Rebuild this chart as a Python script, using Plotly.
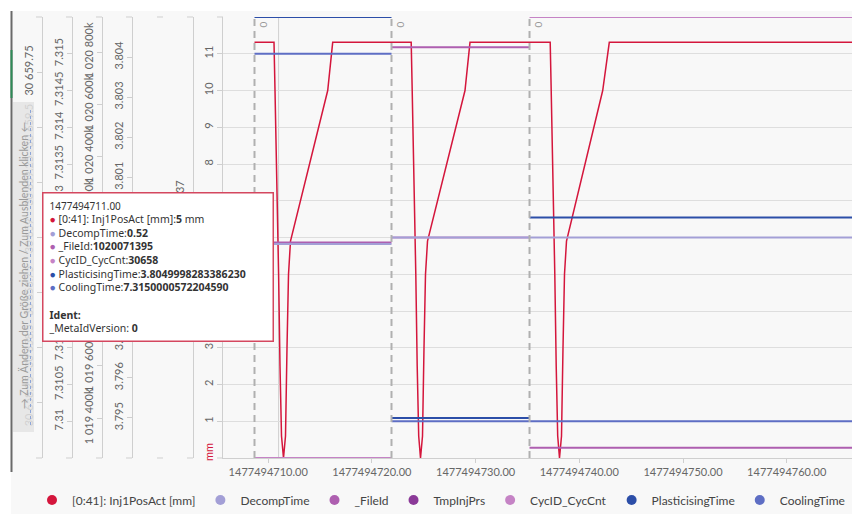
import plotly.graph_objects as go

# ---------------- data ----------------
cycle_start = [1477494708.68, 1477494721.89, 1477494735.20]
series_end = 1477494770.0
hover_time = 1477494711.00
x_range = [1477494705.641, 1477494767.84]

red_t = [1477494708.679, 1477494710.559, 1477494710.656, 1477494710.849, 1477494711.003,
         1477494711.138, 1477494711.283, 1477494711.475, 1477494711.668, 1477494711.813,
         1477494711.958, 1477494712.150, 1477494715.738, 1477494716.220,
         1477494723.790, 1477494723.886, 1477494724.079, 1477494724.233, 1477494724.368,
         1477494724.513, 1477494724.687, 1477494724.880, 1477494725.024, 1477494725.169,
         1477494725.362, 1477494728.978, 1477494729.460,
         1477494737.194, 1477494737.290, 1477494737.483, 1477494737.637, 1477494737.773,
         1477494737.917, 1477494738.091, 1477494738.284, 1477494738.428, 1477494738.573,
         1477494738.766, 1477494742.257, 1477494742.893, 1477494770.0]
red_v = [11.31, 11.31, 10.0, 7.5, 5.0, 2.5, 0.6, 0.0, 0.6, 3.0, 5.0, 5.9, 10.0, 11.31,
         11.31, 10.0, 7.5, 5.0, 2.5, 0.6, 0.0, 0.6, 3.0, 5.0, 5.9, 10.0, 11.31,
         11.31, 10.0, 7.5, 5.0, 2.5, 0.6, 0.0, 0.6, 3.0, 5.0, 5.9, 10.0, 11.31, 11.31]

decomp_v = [0.5197, 0.52, 0.52]
fileid_v = [1020071395, 1020818000, 1019286000]
cycid_v = [30658, 30659, 30660]
plast_v = [3.8049998283386230, 3.795, 3.800]
cool_v = [7.3150000572204590, 7.310, 7.310]

mm_ticks = [1, 2, 3, 4, 5, 6, 7, 8, 9, 10, 11]
cycid_ticks = [30658.25, 30658.5, 30658.75, 30659, 30659.25, 30659.5, 30659.75]
cool_ticks = [7.31, 7.3105, 7.311, 7.3115, 7.312, 7.3125, 7.313, 7.3135, 7.314, 7.3145, 7.315]
fileid_ticks = [1019400000, 1019600000, 1019800000, 1020000000,
                1020200000, 1020400000, 1020600000, 1020800000]
plast_ticks = [3.795, 3.796, 3.797, 3.798, 3.799, 3.800, 3.801, 3.802, 3.803, 3.804]

names = ["[0:41]: Inj1PosAct [mm]", "DecompTime", "_FileId", "TmpInjPrs",
         "CycID_CycCnt", "PlasticisingTime", "CoolingTime"]
colors = ["#d4163c", "#a39fd6", "#ae5fb0", "#8b3a98", "#c583c5", "#2c4ea8", "#5e6ec4"]

# figure sits in the page with an 8px body margin; px_* take page pixels
W, H = 860, 514
OFF = 8
ML, MR, MT, MB = 0, 0, 9, 64
PH = H - MT - MB

# page-pixel x positions of the stacked y axes (CycID, Cooling, FileId, Plast, TmpInjPrs, Decomp, mm)
axis_px = [42, 72, 102, 132, 163, 193, 223]


def px_x(p):
    return (p - OFF) / W


def px_y(p):
    return (H - MB - (p - OFF)) / PH


def steps(vals):
    xs, ys = [], []
    ends = cycle_start[1:] + [series_end]
    for s, e, v in zip(cycle_start, ends, vals):
        xs += [s, e, None]
        ys += [v, v, None]
    return xs, ys


fig = go.Figure()

step_defs = [
    ("DecompTime", decomp_v, "y7", colors[1]),
    ("_FileId", fileid_v, "y4", colors[2]),
    ("CycID_CycCnt", cycid_v, "y2", colors[4]),
    ("CoolingTime", cool_v, "y3", colors[6]),
    ("PlasticisingTime", plast_v, "y5", colors[5]),
]
for nm, vals, ax, col in step_defs:
    xs, ys = steps(vals)
    fig.add_trace(go.Scatter(x=xs, y=ys, yaxis=ax, mode="lines", name=nm,
                             line=dict(color=col, width=2), showlegend=False,
                             connectgaps=False))

fig.add_trace(go.Scatter(x=red_t, y=red_v, mode="lines", name=names[0],
                         line=dict(color=colors[0], width=1.5), showlegend=False))

for nm, col in zip(names, colors):
    fig.add_trace(go.Scatter(x=[None], y=[None], mode="markers", name=nm,
                             marker=dict(color=col, size=10), showlegend=True))

tick_font = dict(family="Lato, Noto Sans, sans-serif", size=11, color="#666")
axis_common = dict(showline=True, linecolor="#cfcfcf", linewidth=1, ticks="outside",
                   ticklen=5, tickcolor="#cfcfcf", tickangle=-90, tickfont=tick_font,
                   showgrid=False, zeroline=False, automargin=False,
                   overlaying="y", anchor="free", side="left", fixedrange=True)

fig.update_layout(
    width=W, height=H,
    margin=dict(l=ML, r=MR, t=MT, b=MB),
    paper_bgcolor="#f8f8f8", plot_bgcolor="#f8f8f8",
    separators=". ",
    hovermode=False,
    xaxis=dict(domain=[px_x(axis_px[6]), 1], range=x_range, tickformat=".2f",
               tick0=1477494710, dtick=10, showline=True, linecolor="#cfcfcf",
               ticks="outside", ticklen=4, tickcolor="#cfcfcf", showgrid=False,
               zeroline=False, tickfont=tick_font),
    yaxis=dict(range=[0, 12], tickvals=mm_ticks, showline=True,
               linecolor="#cfcfcf", ticks="outside", ticklen=5, tickcolor="#cfcfcf",
               tickangle=-90, tickfont=tick_font, showgrid=True, gridcolor="#dedede",
               zeroline=False, automargin=False),
    yaxis2=dict(axis_common, position=px_x(axis_px[0]), range=[30658, 30660],
                tickvals=cycid_ticks, tickformat=",.2~f"),
    yaxis3=dict(axis_common, position=px_x(axis_px[1]), range=[7.3095, 7.3155],
                tickvals=cool_ticks, tickformat=".4~f"),
    yaxis4=dict(axis_common, position=px_x(axis_px[2]), range=[1019247000, 1020934000],
                tickvals=fileid_ticks,
                ticktext=[f"{v // 1000:,}k".replace(",", " ") for v in fileid_ticks]),
    yaxis5=dict(axis_common, position=px_x(axis_px[3]), range=[3.794, 3.805],
                tickvals=plast_ticks, tickformat=".3f"),
    yaxis6=dict(axis_common, position=px_x(axis_px[4]), range=[0, 1],
                showticklabels=False, ticks=""),
    yaxis7=dict(axis_common, position=px_x(axis_px[5]), range=[0.51, 0.53],
                tickvals=[0.52], ticktext=["0.5199999809265137"]),
    legend=dict(orientation="h", x=px_x(441), xanchor="center", y=px_y(500),
                yanchor="middle",
                font=dict(family="Lato, Noto Sans, sans-serif", size=12, color="#444"),
                itemwidth=30, bgcolor="rgba(0,0,0,0)", tracegroupgap=0),
    showlegend=True,
)

shapes = []
for cs in cycle_start:
    shapes.append(dict(type="line", xref="x", yref="paper", x0=cs, x1=cs, y0=0, y1=1,
                       line=dict(color="#b0b0b0", width=2, dash="7px,5px")))
shapes.append(dict(type="line", xref="x", yref="paper", x0=hover_time, x1=hover_time,
                   y0=0, y1=1, line=dict(color="#d0d0d0", width=1), layer="below"))
# end caps of the stacked y axes
for ap in axis_px:
    for yy in (0, 1):
        shapes.append(dict(type="line", xref="paper", yref="paper",
                           x0=px_x(ap - 6), x1=px_x(ap), y0=yy, y1=yy,
                           line=dict(color="#cfcfcf", width=1)))
# page chrome
shapes.append(dict(type="rect", xref="paper", yref="paper", x0=px_x(8), x1=px_x(11),
                   y0=px_y(514), y1=px_y(8), fillcolor="white", line=dict(width=0)))
shapes.append(dict(type="rect", xref="paper", yref="paper", x0=px_x(8), x1=1,
                   y0=px_y(11), y1=px_y(8), fillcolor="white", line=dict(width=0)))
shapes.append(dict(type="line", xref="paper", yref="paper", x0=px_x(11.5), x1=px_x(11.5),
                   y0=px_y(472), y1=px_y(11), line=dict(color="#6a6a6a", width=2)))
shapes.append(dict(type="line", xref="paper", yref="paper", x0=px_x(11.5), x1=px_x(11.5),
                   y0=px_y(98), y1=px_y(50), line=dict(color="#2e8b57", width=2)))
shapes.append(dict(type="rect", xref="paper", yref="paper", x0=px_x(13), x1=px_x(34),
                   y0=px_y(432), y1=px_y(102), fillcolor="rgba(228,228,228,0.85)",
                   line=dict(width=0)))
shapes.append(dict(type="line", xref="paper", yref="paper", x0=px_x(30.5), x1=px_x(30.5),
                   y0=px_y(425), y1=px_y(108),
                   line=dict(color="#8ea6d8", width=1, dash="3px,3px")))
fig.update_layout(shapes=shapes)

ann = []
for cs in cycle_start:
    ann.append(dict(x=cs, xref="x", y=1, yref="paper", text="0", showarrow=False,
                    textangle=-90, xshift=8, yshift=-8, xanchor="center",
                    yanchor="middle",
                    font=dict(family="Lato, sans-serif", size=10, color="#999")))
ann.append(dict(x=px_x(208), xref="paper", y=px_y(452), yref="paper", text="mm",
                showarrow=False, textangle=-90, xanchor="center", yanchor="middle",
                font=dict(family="Lato, sans-serif", size=11, color="#d4163c")))
ann.append(dict(x=px_x(23), xref="paper", y=px_y(266), yref="paper",
                text="→ Zum Ändern der Größe ziehen / Zum Ausblenden klicken ←",
                showarrow=False, textangle=-90, xanchor="center", yanchor="middle",
                font=dict(family="Lato, sans-serif", size=10.5, color="#9a9a9a")))


def dot(c):
    return f"<span style='color:{c}'>●</span> "


tip = (f"<span style='font-size:10px'>{hover_time:.2f}</span><br>"
       f"{dot(colors[0])}{names[0]}:<b>5</b> mm<br>"
       f"{dot(colors[1])}DecompTime:<b>{decomp_v[0]:.2f}</b><br>"
       f"{dot(colors[2])}_FileId:<b>{fileid_v[0]}</b><br>"
       f"{dot(colors[4])}CycID_CycCnt:<b>{cycid_v[0]}</b><br>"
       f"{dot(colors[5])}PlasticisingTime:<b>{plast_v[0]:.16f}</b><br>"
       f"{dot(colors[6])}CoolingTime:<b>{cool_v[0]:.16f}</b><br>"
       f" <br><b>Ident:</b><br>_MetaIdVersion: <b>0</b>")
ann.append(dict(x=px_x(42), xref="paper", y=px_y(191.5), yref="paper",
                xanchor="left", yanchor="top", text=tip, showarrow=False,
                align="left", valign="top", width=219, height=137, borderpad=5,
                bgcolor="white", bordercolor="#d4475f", borderwidth=1.5,
                font=dict(family="Noto Sans, sans-serif", size=10.5, color="#333")))
fig.update_layout(annotations=ann)

fig.write_html("out.html")
